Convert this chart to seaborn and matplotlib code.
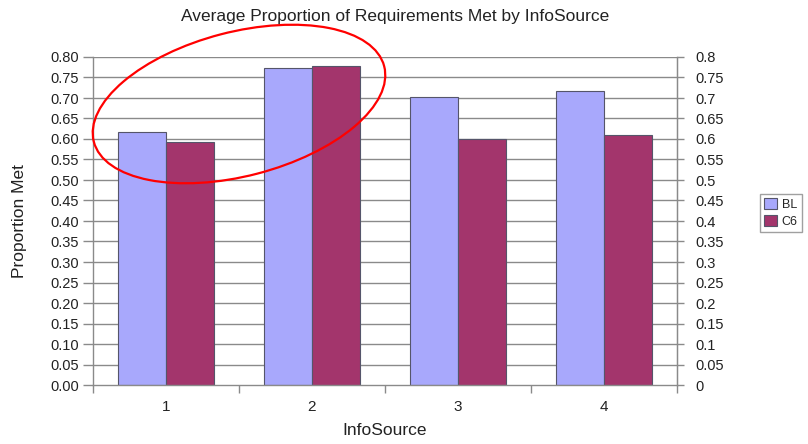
import matplotlib
matplotlib.use("Agg")
import matplotlib.pyplot as plt
from matplotlib.patches import Ellipse
from matplotlib.transforms import IdentityTransform
from matplotlib.ticker import FuncFormatter
import pandas as pd
import seaborn as sns

# data
info_source = ["1", "2", "3", "4"]
bl_values = [0.617, 0.773, 0.702, 0.716]
c6_values = [0.593, 0.778, 0.600, 0.609]
series_names = ["BL", "C6"]
y_ticks = [i * 0.05 for i in range(17)]

df = pd.DataFrame({
    "InfoSource": info_source * 2,
    "Proportion": bl_values + c6_values,
    "Series": [series_names[0]] * 4 + [series_names[1]] * 4,
})

sns.set_style("white")
plt.rcParams["font.family"] = ["Liberation Sans", "DejaVu Sans"]

grid_col = "#8a8a8a"
fig = plt.figure(figsize=(8.08, 4.44), dpi=100)
ax = fig.add_axes([93 / 808, 1 - 385 / 444, 584 / 808, 328 / 444])

ax.set_axisbelow(True)
for y in y_ticks[1:]:
    ax.axhline(y, color=grid_col, lw=1, zorder=0)

sns.barplot(data=df, x="InfoSource", y="Proportion", hue="Series",
            order=info_source, hue_order=series_names,
            palette=["#a8a8fc", "#a3356c"], saturation=1, width=0.66,
            edgecolor="#55556a", linewidth=0.8, ax=ax, legend=True)

ax.set_xlim(-0.5, 3.5)
ax.set_ylim(0, 0.8)
ax.set_yticks(y_ticks)
ax.yaxis.set_major_formatter(FuncFormatter(lambda v, p: f"{v:.2f}"))
ax.tick_params(axis="y", left=True, length=7, width=1, color=grid_col,
               pad=3, labelsize=10.5, labelcolor="#222222")

ax.set_xticks(range(4))
ax.set_xticklabels(info_source)
ax.set_xticks([-0.5, 0.5, 1.5, 2.5, 3.5], minor=True)
ax.tick_params(axis="x", which="major", length=0, pad=11,
               labelsize=11, labelcolor="#222222")
ax.tick_params(axis="x", which="minor", bottom=True, length=6,
               width=1, color=grid_col)

for side in ["left", "right", "bottom"]:
    ax.spines[side].set_color(grid_col)
    ax.spines[side].set_linewidth(1)
ax.spines["top"].set_visible(False)

ax.set_xlabel("InfoSource", fontsize=12.5, color="#222222")
ax.set_ylabel("Proportion Met", fontsize=12.5, color="#222222")
ax.xaxis.set_label_coords(0.5, -0.14)
ax.xaxis.label.set_va("center")
ax.yaxis.set_label_coords(-0.125, 0.5)
ax.yaxis.label.set_va("center")
ax.yaxis.label.set_ha("center")
ax.set_title("Average Proportion of Requirements Met by InfoSource",
             fontsize=12.5, color="#222222", pad=26, x=0.517)

# secondary axis on the right, same scale
ax2 = ax.twinx()
ax2.set_ylim(0, 0.8)
ax2.set_yticks(y_ticks)
ax2.yaxis.set_major_formatter(FuncFormatter(lambda v, p: f"{round(v, 2):g}"))
ax2.tick_params(axis="y", right=True, length=5, width=1, color=grid_col,
                pad=8, labelsize=10.5, labelcolor="#222222")
for side in ["left", "top", "bottom"]:
    ax2.spines[side].set_visible(False)
ax2.spines["right"].set_color(grid_col)

handles, labels = ax.get_legend_handles_labels()
ax.get_legend().remove()
fig.legend(handles, labels, loc="center", bbox_to_anchor=(781 / 808, 1 - 213 / 444),
           fontsize=9, frameon=True, fancybox=False, edgecolor="#888888",
           handlelength=1.0, handleheight=1.0, handletextpad=0.4,
           borderpad=0.35, labelspacing=0.3, borderaxespad=0)

# red hand-drawn style ellipse around groups 1 and 2
ell = Ellipse((239, 444 - 104), 300, 144, angle=14.6, fill=False,
              edgecolor="red", lw=1.6, transform=IdentityTransform(),
              clip_on=False, zorder=10)
fig.add_artist(ell)

fig.savefig("out.png", dpi=100)
